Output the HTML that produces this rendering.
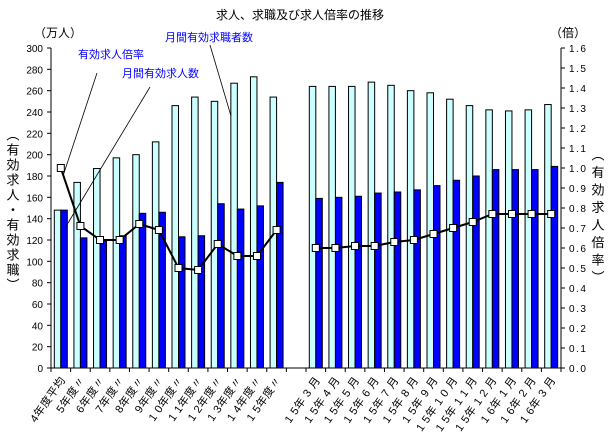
<!DOCTYPE html>
<html><head><meta charset="utf-8">
<style>
body{margin:0;background:#fff;}
svg{display:block;font-family:"Liberation Sans","Noto Sans CJK JP",sans-serif;}
</style></head>
<body>
<svg id="chart" width="611" height="444" viewBox="0 0 611 444" xmlns="http://www.w3.org/2000/svg">
<text x="300" y="19" font-size="12" text-anchor="middle">求人、求職及び求人倍率の推移</text>
<text x="34" y="37" font-size="12">（万人）</text>
<text x="550" y="37" font-size="12">（倍）</text>
<g id="axes"></g>
<g id="bars"></g>
<g id="line"></g>
<g id="xlabels"></g>
<text font-size="13" letter-spacing="2" style="writing-mode:vertical-rl" x="12" y="128">（有効求人・有効求職）</text>
<text font-size="13" letter-spacing="4.5" style="writing-mode:vertical-rl" x="597" y="148">（有効求人倍率）</text>
<g font-size="11" fill="#0000ff">
<text x="78" y="58">有効求人倍率</text>
<text x="122" y="77">月間有効求人数</text>
<text x="165" y="41">月間有効求職者数</text>
</g>
<g stroke="#000" stroke-width="0.8">
<line x1="97" y1="73" x2="63" y2="176"/>
<line x1="150" y1="87" x2="65" y2="228"/>
<line x1="210" y1="45" x2="231" y2="116"/>
</g>
</svg>
<script>
const categories = ["4年度平均","5年度〃","6年度〃","7年度〃","8年度〃","9年度〃","1 0年度〃","1 1年度〃","1 2年度〃","1 3年度〃","1 4年度〃","1 5年度〃",null,
"1 5年 3 月","1 5年 4 月","1 5年 5 月","1 5年 6 月","1 5年 7 月","1 5年 8 月","1 5年 9 月","1 5年 1 0 月","1 5年 1 1 月","1 5年 1 2 月","1 6年 1 月","1 6年 2 月","1 6年 3 月"];
const seekers = [148,174,187,197,200,212,246,254,250,267,273,254,null,264,264,264,268,265,260,258,252,246,242,241,242,247];
const offers = [148,122,120,124,145,146,123,124,154,149,152,174,null,159,160,161,164,165,167,171,176,180,186,186,186,189];
const ratio = [1.00,0.71,0.64,0.64,0.72,0.69,0.50,0.49,0.62,0.56,0.56,0.69,null,0.60,0.60,0.61,0.61,0.63,0.64,0.67,0.70,0.73,0.77,0.77,0.77,0.77];
const leftTicks = [0,20,40,60,80,100,120,140,160,180,200,220,240,260,280,300];
const rightTicks = ["0.0","0.1","0.2","0.3","0.4","0.5","0.6","0.7","0.8","0.9","1.0","1.1","1.2","1.3","1.4","1.5","1.6"];

const NS="http://www.w3.org/2000/svg";
const X0=51,X1=561,Y0=368,Y1=48;
const slot=(X1-X0)/categories.length;
const xc=i=>X0+slot*(i+0.5);
const yL=v=>Y0-(v/300)*(Y0-Y1);
const yR=v=>Y0-(v/1.6)*(Y0-Y1);
function mk(tag,attrs,parent){const e=document.createElementNS(NS,tag);for(const k in attrs)e.setAttribute(k,attrs[k]);parent.appendChild(e);return e;}
const axes=document.getElementById('axes');
let a=mk('line',{x1:X0,y1:Y1,x2:X0,y2:Y0,stroke:'#000'},axes);


a=mk('line',{x1:X1,y1:Y1,x2:X1,y2:Y0,stroke:'#000'},axes);


a=mk('line',{x1:X0,y1:Y0,x2:X1,y2:Y0,stroke:'#000'},axes);


leftTicks.forEach(v=>{const y=yL(v);
 mk('line',{x1:X0-4,y1:y,x2:X0,y2:y,stroke:'#000'},axes);
 const t=mk('text',{x:X0-8,y:y+4,'font-size':10,'text-anchor':'end'},axes);t.textContent=v;
 
 
});
rightTicks.forEach(v=>{const y=yR(parseFloat(v));
 mk('line',{x1:X1,y1:y,x2:X1+4,y2:y,stroke:'#000'},axes);
 const t=mk('text',{x:X1+8,y:y+4,'font-size':10,'letter-spacing':'1.5'},axes);t.textContent=v;
 
 
});
for(let i=0;i<=categories.length;i++){const x=X0+slot*i;mk('line',{x1:x,y1:Y0,x2:x,y2:Y0+4,stroke:'#000'},axes);}
const bars=document.getElementById('bars');
const bw=6.5;
categories.forEach((c,i)=>{if(c===null)return;const cx=xc(i);
 let b=mk('rect',{x:cx-bw,y:yL(seekers[i]),width:bw,height:Y0-yL(seekers[i]),fill:'#ccffff',stroke:'#000','stroke-width':1},bars);
 
 
 b=mk('rect',{x:cx,y:yL(offers[i]),width:bw,height:Y0-yL(offers[i]),fill:'#0000ff',stroke:'#000','stroke-width':1},bars);
 
 
});
const lg=document.getElementById('line');
function seg(idx){const pts=idx.map(i=>xc(i)+','+yR(ratio[i])).join(' ');
 const p=mk('polyline',{points:pts,fill:'none',stroke:'#000','stroke-width':2},lg);
 
 }
seg([0,1,2,3,4,5,6,7,8,9,10,11]);seg([13,14,15,16,17,18,19,20,21,22,23,24,25]);
ratio.forEach((v,i)=>{if(v===null)return;
 const m=mk('rect',{x:xc(i)-3.5,y:yR(v)-3.5,width:7,height:7,fill:'#fff',stroke:'#000'},lg);
 
 
});
const xl=document.getElementById('xlabels');
categories.forEach((c,i)=>{if(c===null)return;const x=xc(i)+5,y=380;
 const t=mk('text',{x:x,y:y,'font-size':11,'letter-spacing':'0.5','text-anchor':'end',transform:`rotate(-55 ${x} ${y})`},xl);
 t.textContent=c;
 
 
});
</script>
</body></html>
